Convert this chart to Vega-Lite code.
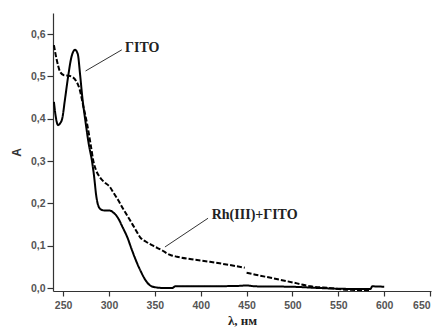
{
  "$schema": "https://vega.github.io/schema/vega-lite/v6.json",
  "width": 378,
  "height": 278,
  "autosize": "none",
  "padding": {"left": 53, "top": 13, "right": 9, "bottom": 38},
  "background": "white",
  "config": {"view": {"stroke": null}},
  "datasets": {
    "curves": [
      {"nm": 240, "A": 0.44, "series": "ГІТО", "seg": "s"},
      {"nm": 242, "A": 0.405, "series": "ГІТО", "seg": "s"},
      {"nm": 244.5, "A": 0.385, "series": "ГІТО", "seg": "s"},
      {"nm": 247, "A": 0.39, "series": "ГІТО", "seg": "s"},
      {"nm": 249, "A": 0.40, "series": "ГІТО", "seg": "s"},
      {"nm": 252, "A": 0.445, "series": "ГІТО", "seg": "s"},
      {"nm": 255.5, "A": 0.50, "series": "ГІТО", "seg": "s"},
      {"nm": 259, "A": 0.545, "series": "ГІТО", "seg": "s"},
      {"nm": 263, "A": 0.563, "series": "ГІТО", "seg": "s"},
      {"nm": 266, "A": 0.553, "series": "ГІТО", "seg": "s"},
      {"nm": 268.5, "A": 0.505, "series": "ГІТО", "seg": "s"},
      {"nm": 271, "A": 0.45, "series": "ГІТО", "seg": "s"},
      {"nm": 274, "A": 0.40, "series": "ГІТО", "seg": "s"},
      {"nm": 278, "A": 0.34, "series": "ГІТО", "seg": "s"},
      {"nm": 281.5, "A": 0.30, "series": "ГІТО", "seg": "s"},
      {"nm": 284, "A": 0.26, "series": "ГІТО", "seg": "s"},
      {"nm": 286, "A": 0.22, "series": "ГІТО", "seg": "s"},
      {"nm": 288, "A": 0.197, "series": "ГІТО", "seg": "s"},
      {"nm": 291, "A": 0.186, "series": "ГІТО", "seg": "s"},
      {"nm": 296, "A": 0.183, "series": "ГІТО", "seg": "s"},
      {"nm": 301, "A": 0.183, "series": "ГІТО", "seg": "s"},
      {"nm": 305, "A": 0.178, "series": "ГІТО", "seg": "s"},
      {"nm": 310, "A": 0.165, "series": "ГІТО", "seg": "s"},
      {"nm": 315, "A": 0.143, "series": "ГІТО", "seg": "s"},
      {"nm": 320, "A": 0.12, "series": "ГІТО", "seg": "s"},
      {"nm": 325, "A": 0.09, "series": "ГІТО", "seg": "s"},
      {"nm": 330, "A": 0.062, "series": "ГІТО", "seg": "s"},
      {"nm": 335, "A": 0.038, "series": "ГІТО", "seg": "s"},
      {"nm": 340, "A": 0.018, "series": "ГІТО", "seg": "s"},
      {"nm": 345, "A": 0.006, "series": "ГІТО", "seg": "s"},
      {"nm": 350, "A": 0.002, "series": "ГІТО", "seg": "s"},
      {"nm": 360, "A": 0.0, "series": "ГІТО", "seg": "s"},
      {"nm": 369, "A": 0.0, "series": "ГІТО", "seg": "s"},
      {"nm": 372, "A": 0.004, "series": "ГІТО", "seg": "s"},
      {"nm": 400, "A": 0.004, "series": "ГІТО", "seg": "s"},
      {"nm": 440, "A": 0.005, "series": "ГІТО", "seg": "s"},
      {"nm": 450, "A": 0.006, "series": "ГІТО", "seg": "s"},
      {"nm": 460, "A": 0.004, "series": "ГІТО", "seg": "s"},
      {"nm": 500, "A": 0.003, "series": "ГІТО", "seg": "s"},
      {"nm": 530, "A": 0.0, "series": "ГІТО", "seg": "s"},
      {"nm": 560, "A": -0.002, "series": "ГІТО", "seg": "s"},
      {"nm": 585, "A": -0.002, "series": "ГІТО", "seg": "s"},
      {"nm": 587, "A": 0.004, "series": "ГІТО", "seg": "s"},
      {"nm": 600, "A": 0.003, "series": "ГІТО", "seg": "s"},
      {"nm": 240, "A": 0.574, "series": "Rh(III)+ГІТО", "seg": "a"},
      {"nm": 243, "A": 0.54, "series": "Rh(III)+ГІТО", "seg": "a"},
      {"nm": 247, "A": 0.51, "series": "Rh(III)+ГІТО", "seg": "a"},
      {"nm": 251, "A": 0.503, "series": "Rh(III)+ГІТО", "seg": "a"},
      {"nm": 255, "A": 0.502, "series": "Rh(III)+ГІТО", "seg": "a"},
      {"nm": 260, "A": 0.499, "series": "Rh(III)+ГІТО", "seg": "a"},
      {"nm": 264, "A": 0.49, "series": "Rh(III)+ГІТО", "seg": "a"},
      {"nm": 268, "A": 0.47, "series": "Rh(III)+ГІТО", "seg": "a"},
      {"nm": 272, "A": 0.43, "series": "Rh(III)+ГІТО", "seg": "a"},
      {"nm": 276, "A": 0.39, "series": "Rh(III)+ГІТО", "seg": "a"},
      {"nm": 280, "A": 0.34, "series": "Rh(III)+ГІТО", "seg": "a"},
      {"nm": 283, "A": 0.30, "series": "Rh(III)+ГІТО", "seg": "a"},
      {"nm": 286, "A": 0.278, "series": "Rh(III)+ГІТО", "seg": "a"},
      {"nm": 290, "A": 0.262, "series": "Rh(III)+ГІТО", "seg": "a"},
      {"nm": 295, "A": 0.25, "series": "Rh(III)+ГІТО", "seg": "a"},
      {"nm": 301, "A": 0.239, "series": "Rh(III)+ГІТО", "seg": "a"},
      {"nm": 305, "A": 0.225, "series": "Rh(III)+ГІТО", "seg": "a"},
      {"nm": 310, "A": 0.208, "series": "Rh(III)+ГІТО", "seg": "a"},
      {"nm": 316, "A": 0.185, "series": "Rh(III)+ГІТО", "seg": "a"},
      {"nm": 323, "A": 0.16, "series": "Rh(III)+ГІТО", "seg": "a"},
      {"nm": 329, "A": 0.138, "series": "Rh(III)+ГІТО", "seg": "a"},
      {"nm": 334, "A": 0.12, "series": "Rh(III)+ГІТО", "seg": "a"},
      {"nm": 340, "A": 0.11, "series": "Rh(III)+ГІТО", "seg": "a"},
      {"nm": 348, "A": 0.10, "series": "Rh(III)+ГІТО", "seg": "a"},
      {"nm": 357, "A": 0.09, "series": "Rh(III)+ГІТО", "seg": "a"},
      {"nm": 367, "A": 0.078, "series": "Rh(III)+ГІТО", "seg": "a"},
      {"nm": 374, "A": 0.074, "series": "Rh(III)+ГІТО", "seg": "a"},
      {"nm": 390, "A": 0.068, "series": "Rh(III)+ГІТО", "seg": "a"},
      {"nm": 410, "A": 0.062, "series": "Rh(III)+ГІТО", "seg": "a"},
      {"nm": 430, "A": 0.055, "series": "Rh(III)+ГІТО", "seg": "a"},
      {"nm": 448, "A": 0.048, "series": "Rh(III)+ГІТО", "seg": "a"},
      {"nm": 450, "A": 0.036, "series": "Rh(III)+ГІТО", "seg": "b"},
      {"nm": 470, "A": 0.027, "series": "Rh(III)+ГІТО", "seg": "b"},
      {"nm": 490, "A": 0.018, "series": "Rh(III)+ГІТО", "seg": "b"},
      {"nm": 505, "A": 0.011, "series": "Rh(III)+ГІТО", "seg": "b"},
      {"nm": 520, "A": 0.004, "series": "Rh(III)+ГІТО", "seg": "b"},
      {"nm": 540, "A": 0.0, "series": "Rh(III)+ГІТО", "seg": "b"},
      {"nm": 560, "A": -0.004, "series": "Rh(III)+ГІТО", "seg": "b"},
      {"nm": 585, "A": -0.005, "series": "Rh(III)+ГІТО", "seg": "b"}
    ],
    "labels": [
      {"nm": 317.5, "A": 0.567, "text": "ГІТО"},
      {"nm": 412, "A": 0.173, "text": "Rh(III)+ГІТО"}
    ],
    "pointers": [
      {"nm": 314, "A": 0.563, "nm2": 274.5, "A2": 0.513},
      {"nm": 408, "A": 0.165, "nm2": 361, "A2": 0.097}
    ]
  },
  "layer": [
    {
      "data": {"name": "curves"},
      "mark": {"type": "line", "color": "black", "strokeWidth": 2, "interpolate": "monotone"},
      "encoding": {
        "x": {
          "field": "nm", "type": "quantitative",
          "scale": {"domain": [239, 651], "nice": false, "zero": false},
          "axis": {
            "values": [250, 275, 300, 325, 350, 375, 400, 425, 450, 475, 500, 525, 550, 575, 600, 625, 650],
            "labelExpr": "datum.value % 50 === 0 ? datum.label : ''",
            "tickSize": {"condition": {"test": "datum.value % 50 === 0", "value": 5}, "value": 3},
            "title": "λ, нм",
            "titleFont": "Liberation Serif", "titleFontSize": 13, "titleFontWeight": "bold", "titleColor": "#222",
            "titlePadding": 4,
            "labelFont": "Liberation Sans", "labelFontSize": 10.5, "labelFontWeight": "bold", "labelColor": "#555",
            "labelPadding": 4,
            "domainColor": "#333", "domainWidth": 1.2, "tickColor": "#333", "tickWidth": 1.2,
            "grid": false
          }
        },
        "y": {
          "field": "A", "type": "quantitative",
          "scale": {"domain": [-0.007, 0.65], "nice": false, "zero": false},
          "axis": {
            "values": [0, 0.05, 0.1, 0.15, 0.2, 0.25, 0.3, 0.35, 0.4, 0.45, 0.5, 0.55, 0.6],
            "labelExpr": "abs(datum.value*10 - round(datum.value*10)) < 0.001 ? replace(format(datum.value, '.1f'), '.', ',') : ''",
            "tickSize": {"condition": {"test": "abs(datum.value*10 - round(datum.value*10)) < 0.001", "value": 6}, "value": 3},
            "title": "A",
            "titleFont": "Liberation Sans", "titleFontSize": 12, "titleFontWeight": "bold", "titleColor": "#333",
            "titlePadding": 7,
            "labelFont": "Liberation Sans", "labelFontSize": 10.5, "labelFontWeight": "bold", "labelColor": "#555",
            "labelPadding": 2,
            "domainColor": "#333", "domainWidth": 1.2, "tickColor": "#333", "tickWidth": 1.2,
            "grid": false
          }
        },
        "detail": {"field": "seg"},
        "strokeDash": {
          "field": "series", "type": "nominal",
          "scale": {"domain": ["ГІТО", "Rh(III)+ГІТО"], "range": [[1, 0], [5, 2]]},
          "legend": null
        }
      }
    },
    {
      "data": {"name": "pointers"},
      "mark": {"type": "rule", "color": "#333", "strokeWidth": 1},
      "encoding": {
        "x": {"field": "nm", "type": "quantitative"},
        "y": {"field": "A", "type": "quantitative"},
        "x2": {"field": "nm2"},
        "y2": {"field": "A2"}
      }
    },
    {
      "data": {"name": "labels"},
      "mark": {"type": "text", "align": "left", "baseline": "middle", "font": "Liberation Serif", "fontSize": 14, "fontWeight": "bold", "color": "#222"},
      "encoding": {
        "x": {"field": "nm", "type": "quantitative"},
        "y": {"field": "A", "type": "quantitative"},
        "text": {"field": "text"}
      }
    }
  ]
}
